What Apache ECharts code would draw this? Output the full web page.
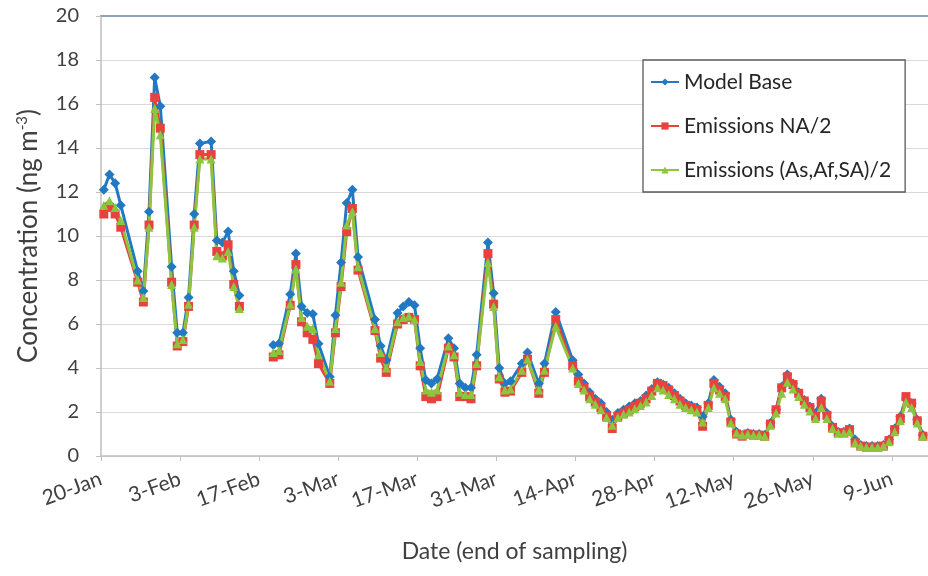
<!DOCTYPE html>
<html>
<head>
<meta charset="utf-8">
<script src="https://cdn.jsdelivr.net/npm/echarts@6/dist/echarts.min.js"></script>
<style>
  html, body { margin: 0; padding: 0; background: #ffffff; }
  #chart { width: 928px; height: 576px; }
</style>
</head>
<body>
<div id="chart"></div>
<script>
// Sampling end dates (non-leap year; only the day and month are shown)
const sampleDates = [
  '2011-01-20','2011-01-21','2011-01-22','2011-01-23','2011-01-26','2011-01-27','2011-01-28','2011-01-29','2011-01-30',
  '2011-02-01','2011-02-02','2011-02-03','2011-02-04','2011-02-05','2011-02-06','2011-02-08','2011-02-09','2011-02-10',
  '2011-02-11','2011-02-12','2011-02-13','2011-02-16',
  '2011-02-19','2011-02-20','2011-02-22','2011-02-23','2011-02-24','2011-02-25','2011-02-26','2011-02-27',
  '2011-03-01','2011-03-02','2011-03-03','2011-03-04','2011-03-05','2011-03-06','2011-03-09','2011-03-10','2011-03-11',
  '2011-03-13','2011-03-14','2011-03-15','2011-03-16','2011-03-17','2011-03-18','2011-03-19','2011-03-20',
  '2011-03-22','2011-03-23','2011-03-24','2011-03-25','2011-03-26','2011-03-27','2011-03-29','2011-03-30','2011-03-31',
  '2011-04-01','2011-04-02','2011-04-04','2011-04-05','2011-04-07','2011-04-08','2011-04-10',
  '2011-04-13','2011-04-14','2011-04-15','2011-04-16','2011-04-17','2011-04-18','2011-04-19','2011-04-20',
  '2011-04-21','2011-04-22','2011-04-23','2011-04-24','2011-04-25','2011-04-26','2011-04-27','2011-04-28',
  '2011-04-29','2011-04-30','2011-05-01','2011-05-02','2011-05-03','2011-05-04','2011-05-05','2011-05-06',
  '2011-05-07','2011-05-08','2011-05-09','2011-05-10','2011-05-11','2011-05-12','2011-05-13','2011-05-14',
  '2011-05-15','2011-05-16','2011-05-17','2011-05-18','2011-05-19','2011-05-20','2011-05-21','2011-05-22',
  '2011-05-23','2011-05-24','2011-05-25','2011-05-26','2011-05-27','2011-05-28','2011-05-29','2011-05-30',
  '2011-05-31','2011-06-01','2011-06-02','2011-06-03','2011-06-04','2011-06-05','2011-06-06','2011-06-07',
  '2011-06-08','2011-06-09','2011-06-10','2011-06-11','2011-06-12','2011-06-13','2011-06-14'
];

// Concentrations (ng m-3); null = no sample (line break)
const modelBase = [
  12.1, 12.8, 12.4, 11.4, 8.4, 7.5, 11.1, 17.2, 15.9,
  8.6, 5.6, 5.6, 7.2, 11.0, 14.2, 14.3, 9.8, 9.7,
  10.2, 8.4, 7.3, null,
  5.05, 5.1, 7.35, 9.2, 6.8, 6.5, 6.45, 5.1,
  3.6, 6.4, 8.8, 11.5, 12.1, 9.05, 6.2, 5.0, 4.35,
  6.5, 6.8, 7.0, 6.85, 4.9, 3.45, 3.3, 3.5,
  5.35, 4.9, 3.3, 3.1, 3.1, 4.6, 9.7, 7.4, 4.0,
  3.3, 3.4, 4.2, 4.7, 3.3, 4.2, 6.55,
  4.35, 3.7, 3.3, 2.9, 2.6, 2.4, 2.0, 1.65,
  1.95, 2.1, 2.25, 2.4, 2.5, 2.75, 3.05, 3.35,
  3.25, 3.1, 2.85, 2.6, 2.4, 2.3, 2.2, 1.8,
  2.4, 3.45, 3.15, 2.85, 1.65, 1.1, 0.95, 1.05,
  1.0, 1.0, 0.95, 1.5, 2.1, 3.15, 3.7, 3.3,
  2.9, 2.55, 2.25, 1.95, 2.6, 1.95, 1.35, 1.1,
  1.1, 1.25, 0.75, 0.5, 0.45, 0.45, 0.45, 0.5,
  0.75, 1.25, 1.8, 2.6, 2.4, 1.65, 0.95
];

const emissionsNA = [
  11.0, 11.3, 11.0, 10.4, 7.9, 7.0, 10.5, 16.3, 14.9,
  7.9, 5.0, 5.2, 6.8, 10.5, 13.7, 13.7, 9.3, 9.1,
  9.6, 7.8, 6.8, null,
  4.5, 4.6, 6.85, 8.7, 6.1, 5.6, 5.3, 4.2,
  3.3, 5.6, 7.7, 10.2, 11.25, 8.45, 5.7, 4.45, 3.8,
  6.0, 6.2, 6.3, 6.2, 4.1, 2.7, 2.6, 2.7,
  4.9, 4.5, 2.7, 2.7, 2.6, 4.1, 9.2, 6.9, 3.5,
  2.9, 2.95, 3.8, 4.4, 2.85, 3.8, 6.2,
  4.1, 3.4, 3.1, 2.7, 2.45, 2.2, 1.8, 1.25,
  1.8, 1.95, 2.1, 2.25, 2.4, 2.6, 2.95, 3.3,
  3.2, 3.0, 2.75, 2.5, 2.3, 2.2, 2.1, 1.35,
  2.3, 3.3, 3.0, 2.7, 1.55, 1.0, 0.9, 1.0,
  0.95, 0.95, 0.9, 1.45, 2.1, 3.1, 3.6, 3.25,
  2.85, 2.5, 2.2, 1.8, 2.5, 1.85, 1.3, 1.05,
  1.05, 1.2, 0.6, 0.45, 0.4, 0.4, 0.4, 0.45,
  0.7, 1.2, 1.7, 2.7, 2.4, 1.6, 0.9
];

const emissionsAsAfSA = [
  11.4, 11.6, 11.3, 10.7, 8.0, 7.2, 10.4, 15.8, 14.6,
  7.8, 5.1, 5.3, 6.9, 10.4, 13.5, 13.5, 9.1, 9.0,
  9.3, 7.7, 6.7, null,
  4.7, 4.8, 6.9, 8.5, 6.3, 5.9, 5.8, 4.6,
  3.4, 5.8, 7.9, 10.5, 11.1, 8.6, 5.8, 4.7, 4.0,
  6.1, 6.3, 6.35, 6.2, 4.3, 3.0, 2.9, 3.0,
  5.0, 4.6, 2.9, 2.8, 2.8, 4.2, 8.8, 6.8, 3.6,
  3.0, 3.05, 3.9, 4.4, 3.0, 3.9, 5.9,
  4.0, 3.3, 3.0, 2.6, 2.35, 2.1, 1.75, 1.4,
  1.75, 1.9, 2.0, 2.15, 2.3, 2.45, 2.75, 3.1,
  3.0, 2.8, 2.6, 2.35, 2.2, 2.1, 2.0, 1.55,
  2.2, 3.1, 2.85, 2.6, 1.5, 1.05, 0.95, 1.0,
  0.95, 0.95, 0.9, 1.4, 1.95, 2.85, 3.35, 3.05,
  2.7, 2.35, 2.05, 1.7, 2.2, 1.7, 1.25, 1.05,
  1.05, 1.1, 0.6, 0.45, 0.4, 0.4, 0.4, 0.45,
  0.65, 1.1, 1.6, 2.45, 2.2, 1.5, 0.9
];

// Date-axis tick labels, one every 14 days starting 20-Jan
const xTickLabels = ['20-Jan','3-Feb','17-Feb','3-Mar','17-Mar','31-Mar','14-Apr','28-Apr','12-May','26-May','9-Jun'];
const seriesNames = ['Model Base', 'Emissions NA/2', 'Emissions (As,Af,SA)/2'];

// Day offset from the first date; each sample sits at the middle of its day
const DAY_MS = 86400000;
const startMs = Date.parse(sampleDates[0] + 'T00:00:00Z');
const dayPos = sampleDates.map(d => (Date.parse(d + 'T00:00:00Z') - startMs) / DAY_MS + 0.5);
const toPairs = vals => vals.map((v, i) => [dayPos[i], v === null ? '-' : v]);

const FONT = 'Lato, "Open Sans", sans-serif';
const TXT = '#404040';

const chart = echarts.init(document.getElementById('chart'), null, { renderer: 'canvas' });

chart.setOption({
  animation: false,
  backgroundColor: '#ffffff',
  textStyle: { fontFamily: FONT },
  grid: { left: 101, right: 0, top: 16, bottom: 120, containLabel: false },
  legend: {
    orient: 'vertical',
    left: 643,
    top: 60,
    data: seriesNames,
    itemWidth: 28,
    itemHeight: 9,
    itemGap: 20,
    padding: [10, 14, 10, 7],
    backgroundColor: '#ffffff',
    borderColor: '#595959',
    borderWidth: 1.3,
    textStyle: { fontFamily: FONT, fontSize: 21, color: '#262626', lineHeight: 24 }
  },
  xAxis: [
    {
      type: 'value',
      min: 0,
      max: 146.4,
      interval: 14,
      name: 'Date (end of sampling)',
      nameLocation: 'middle',
      nameGap: 84,
      nameTextStyle: { fontFamily: FONT, fontSize: 23, color: TXT },
      axisLine: { show: true, lineStyle: { color: '#bfbfbf', width: 1.5 } },
      axisTick: { show: true, length: 5, lineStyle: { color: '#bfbfbf' } },
      splitLine: { show: false },
      axisLabel: {
        rotate: 20,
        margin: 22,
        fontFamily: FONT,
        fontSize: 21,
        color: TXT,
        showMaxLabel: false,
        formatter: v => (v % 14 === 0 ? (xTickLabels[v / 14] || '') : '')
      }
    },
    {
      type: 'value',
      position: 'top',
      min: 0,
      max: 146.4,
      axisLine: { show: true, lineStyle: { color: '#8fa3bd', width: 2 } },
      axisTick: { show: false },
      axisLabel: { show: false },
      splitLine: { show: false }
    }
  ],
  yAxis: {
    type: 'value',
    min: 0,
    max: 20,
    interval: 2,
    name: 'Concentration (ng m{sup|-3})',
    nameLocation: 'middle',
    nameGap: 58,
    nameTextStyle: {
      fontFamily: FONT,
      fontSize: 26,
      color: TXT,
      rich: {
        sup: { fontFamily: FONT, fontSize: 15, color: TXT, verticalAlign: 'top', padding: [0, 0, 13, 0] }
      }
    },
    axisLine: { show: true, lineStyle: { color: '#bfbfbf', width: 1.5 } },
    axisTick: { show: true, length: 5, lineStyle: { color: '#bfbfbf' } },
    splitLine: { show: true, lineStyle: { color: '#d9d9d9', width: 1 } },
    axisLabel: { margin: 22, fontFamily: FONT, fontSize: 20, color: TXT }
  },
  series: [
    {
      name: seriesNames[0],
      type: 'line',
      data: toPairs(modelBase),
      connectNulls: false,
      symbol: 'diamond',
      symbolSize: 10,
      color: '#2279c2',
      lineStyle: { width: 3, color: '#2279c2' },
      itemStyle: { color: '#2279c2' }
    },
    {
      name: seriesNames[1],
      type: 'line',
      data: toPairs(emissionsNA),
      connectNulls: false,
      symbol: 'rect',
      symbolSize: 9,
      color: '#e8423f',
      lineStyle: { width: 3, color: '#e8423f' },
      itemStyle: { color: '#e8423f' }
    },
    {
      name: seriesNames[2],
      type: 'line',
      data: toPairs(emissionsAsAfSA),
      connectNulls: false,
      symbol: 'triangle',
      symbolSize: 9,
      color: '#8cc63f',
      lineStyle: { width: 3, color: '#8cc63f' },
      itemStyle: { color: '#8cc63f' }
    }
  ]
});
</script>
</body>
</html>
